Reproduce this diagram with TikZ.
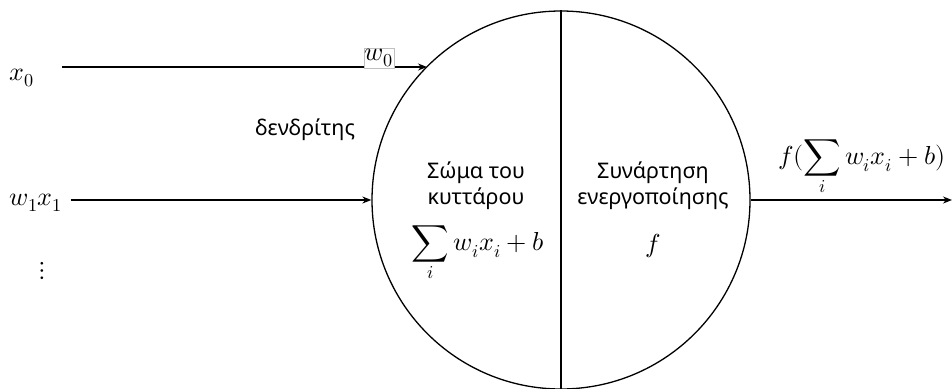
\documentclass[tikz,border=0pt]{standalone}
\usepackage{fontspec}
\setmainfont{Noto Sans}
\usepackage{amsmath}
\usepackage{unicode-math}
\setmathfont{Latin Modern Math}
\usetikzlibrary{arrows.meta}
\begin{document}
\begin{tikzpicture}[x=1pt,y=-1pt,
  wire/.style={line width=1.3pt,-{Stealth[length=9pt,width=7pt]}},
  txt/.style={font=\fontsize{21.5}{26}\selectfont,align=center,inner sep=0pt},
  mth/.style={font=\fontsize{26}{30}\selectfont,inner sep=0pt}]
\useasboundingbox (0,0) rectangle (952,388);
\node[draw,circle,line width=1.3pt,minimum size=378pt,inner sep=0pt] (cell) at (561,200) {};
\draw[line width=1.3pt] (cell.north) -- (cell.south);
\coordinate (x0s) at (62,67);
\coordinate (x0e) at (427,67);
\draw[wire] (x0s) -- (x0e);
\node[mth] (x0) at (22,78) {$x_0$};
\node[draw=black!25,fill=white,inner sep=1pt,font=\fontsize{26}{30}\selectfont] (w0) at (379,58) {$w_0$};
\node[txt] (dend) at (305,130) {δενδρίτης};
\node[mth] (w1x1) at (36,203) {$w_1x_1$};
\draw[wire] (w1x1.east)++(8,-3) coordinate (w1s) (w1s) -- (cell.west);
\node[mth] (dots) at (42,271) {$\vdots$};
\node[txt] (body) at (476,186) {Σώμα του\\κυττάρου};
\node[mth] (sum) at (478,254) {$\displaystyle\sum_i w_i x_i + b$};
\node[txt] (act) at (653,186) {Συνάρτηση\\ενεργοποίησης};
\node[mth] (f) at (653,246) {$f$};
\coordinate (out) at (952,200);
\draw[wire] (cell.east) -- (out);
\node[mth] (outl) at (862,168) {$f(\displaystyle\sum_i w_i x_i + b)$};
\end{tikzpicture}
\end{document}
